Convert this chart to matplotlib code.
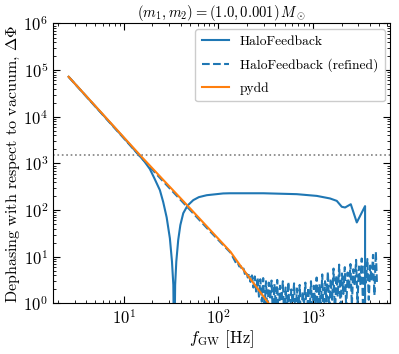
import matplotlib
matplotlib.use("Agg")
import matplotlib.pyplot as plt
import numpy as np

plt.rcParams['font.family'] = 'serif'
plt.rcParams['font.serif'] = ['cmr10', 'DejaVu Serif']
plt.rcParams['mathtext.fontset'] = 'cm'
plt.rcParams['axes.formatter.use_mathtext'] = True
plt.rcParams['axes.unicode_minus'] = False

# HaloFeedback (solid)
hf_f = [2.6, 5.0, 10.0, 14.8, 16.5, 18.8, 21.0, 24.0, 26.0, 28.3, 30.6, 32.2, 33.3, 34.0,
        34.8, 35.8, 37.5, 39.5, 42.4, 47.0, 54.1, 62.0, 75.1, 112, 132, 298, 673, 1095,
        1513, 1782, 2014, 2183, 2507, 2902, 3550, 3551]
hf_dphi = [72000, 16600, 3520, 1420, 1100, 760, 480, 268, 150, 70, 25, 8.0, 2.5, 0.05,
           2.5, 8.0, 23, 48, 86, 125, 164, 190, 209, 228, 230, 230, 220, 202,
           178, 158, 118, 114, 134, 54.5, 122, 0.1]

# HaloFeedback (refined) (dashed)
hfr_f = [2.6, 5.0, 10.0, 14.8, 25.0, 48.7, 80.0, 134,
         150, 155, 160, 166, 172, 178, 184, 190, 197, 204, 211, 218, 226, 234, 242, 250,
         259, 268, 277, 287, 297, 307, 318, 329, 340, 352, 364, 377, 390, 404, 418, 432,
         447, 463, 479, 496, 513, 531, 549, 568, 588, 609, 630, 652, 675, 698, 722, 748,
         774, 801, 829, 858, 888, 919, 951, 984, 1018, 1054, 1091, 1129, 1168, 1209, 1251,
         1295, 1340, 1387, 1435, 1486, 1537, 1591, 1647, 1704, 1764, 1825, 1889, 1955,
         2023, 2094, 2167, 2243, 2321, 2402, 2486, 2573, 2663, 2756, 2852, 2952, 3055,
         3162, 3272, 3387, 3505, 3627, 3754, 3885, 4021, 4161, 4307, 4457, 4613, 4750]
hfr_dphi = [72000, 16500, 3450, 1420, 450, 107, 36.5, 12.3,
            8.0, 7.0, 7.4, 6.2, 6.3, 5.2, 5.6, 4.3, 4.9, 3.6, 4.4, 2.9, 4.0, 2.2, 3.8, 1.8,
            3.6, 1.4, 3.3, 1.1, 3.5, 0.8, 3.0, 0.6, 2.8, 1.2, 3.1, 0.5, 2.6, 0.9, 3.2, 0.4,
            2.4, 1.1, 3.0, 0.5, 2.2, 0.8, 2.9, 0.3, 2.0, 1.0, 2.7, 0.4, 2.1, 0.7, 2.5, 0.3,
            1.8, 0.9, 2.8, 0.4, 2.2, 0.6, 3.0, 0.5, 2.4, 1.0, 3.6, 0.5, 2.6, 0.8, 4.2,
            0.4, 3.0, 1.1, 4.8, 0.6, 3.4, 1.2, 5.6, 0.5, 4.0, 1.4, 6.8, 0.7,
            4.4, 1.6, 6.0, 0.8, 4.6, 2.0, 7.0, 0.9, 5.4, 2.4, 8.6, 1.0, 6.2,
            2.6, 9.2, 0.6, 7.0, 2.8, 9.0, 1.2, 6.5, 3.0, 11.0, 1.5, 13.0, 2.5]

# pydd
pydd_f = [2.6, 5.0, 10.0, 14.8, 25.0, 48.7, 80.0, 134, 169, 250, 340]
pydd_dphi = [72000, 16900, 3600, 1510, 486, 116, 39.3, 12.8, 6.6, 2.3, 1.0]

threshold = 1550

fig = plt.figure(figsize=(3.99, 3.54), dpi=100)
ax = fig.add_axes([0.133, 0.1427, 0.845, 0.791])

ax.loglog(hf_f, hf_dphi, color='C0', lw=1.5, label='HaloFeedback')
ax.loglog(hfr_f, hfr_dphi, color='C0', lw=1.5, ls='--', label='HaloFeedback (refined)')
ax.loglog(pydd_f, pydd_dphi, color='C1', lw=1.5, label='pydd')
ax.axhline(threshold, color='gray', ls=':', lw=1.2)

ax.set_xlim(1.78, 6550)
ax.set_ylim(1, 1e6)
ax.tick_params(which='both', direction='in', top=True, right=True, labelsize=12)
ax.tick_params(which='major', length=5)
ax.tick_params(which='minor', length=2.5)
ax.yaxis.set_major_locator(matplotlib.ticker.LogLocator(base=10, numticks=10))
ax.yaxis.set_minor_locator(matplotlib.ticker.LogLocator(base=10, subs=np.arange(2, 10), numticks=10))

ax.set_xlabel(r'$f_\mathrm{GW}$ [Hz]', fontsize=12, labelpad=1)
ax.set_ylabel(r'Dephasing with respect to vacuum, $\Delta\Phi$', fontsize=11.5, labelpad=1)
ax.set_title(r'$(m_1, m_2) = (1.0, 0.001)\,M_\odot$', fontsize=10.5, pad=2)
ax.legend(loc='upper right', fontsize=9.7, framealpha=1.0, borderaxespad=0.4,
          labelspacing=0.75, borderpad=0.5)

fig.savefig('out.png', dpi=100)
